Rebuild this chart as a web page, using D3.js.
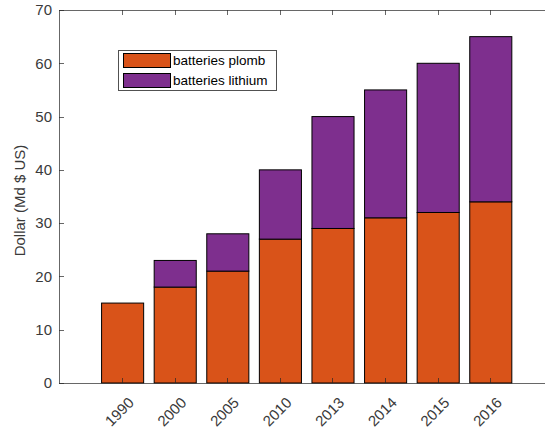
<!DOCTYPE html>
<html><head><meta charset="utf-8">
<script src="https://cdn.jsdelivr.net/npm/d3@7"></script>
<style>body{margin:0;background:#fff}svg{display:block}text{font-family:"Liberation Sans",Arial,sans-serif}</style>
</head><body><svg id="c" width="545" height="428"></svg>
<script>
const categories = ["1990","2000","2005","2010","2013","2014","2015","2016"];
const plomb   = [15,18,21,27,29,31,32,34];
const lithium = [0,5,7,13,21,24,28,31];
const seriesNames = ["batteries plomb","batteries lithium"];
const colors = ["#D95319","#7E2F8E"];
const yTicks = [0,10,20,30,40,50,60,70];

const svg = d3.select("#c");
const L=59, T=10, B=383, R=553.4;
const x = d3.scaleLinear().domain([-0.2, categories.length+1.2]).range([L,R]);
const y = d3.scaleLinear().domain([0,70]).range([B,T]);
const axisCol = "#262626";
const textCol = "#3a3a3a";
const barW = 0.8;

const data = categories.map((c,i)=>({c, i:i+1, plomb:plomb[i], lithium:lithium[i]}));
const stack = d3.stack().keys(["plomb","lithium"])(data);

stack.forEach((s,k)=>{
  svg.append("g").selectAll("rect").data(s.filter(d=>d[1]-d[0]>0)).join("rect")
    .attr("x", d=>x(d.data.i-barW/2)+0.5)
    .attr("width", d=>x(barW)-x(0))
    .attr("y", d=>y(d[1]))
    .attr("height", d=>y(d[0])-y(d[1]))
    .attr("fill", colors[k]).attr("stroke","#000").attr("stroke-width",1);
});

// axes box
const g = svg.append("g").attr("stroke", axisCol).attr("stroke-opacity",0.7).attr("fill","none");
g.append("line").attr("x1",L+0.5).attr("x2",L+0.5).attr("y1",T).attr("y2",B+0.5);
g.append("line").attr("x1",L).attr("x2",R).attr("y1",B+0.5).attr("y2",B+0.5);
g.append("line").attr("x1",L).attr("x2",R).attr("y1",T+0.5).attr("y2",T+0.5);
// y ticks inward
g.selectAll(".yt").data(yTicks).join("line").attr("x1",L).attr("x2",L+5)
  .attr("y1",d=>Math.round(y(d))+0.5).attr("y2",d=>Math.round(y(d))+0.5);
// x ticks bottom & top inward
g.selectAll(".xb").data(data).join("line").attr("x1",d=>Math.round(x(d.i))+0.5).attr("x2",d=>Math.round(x(d.i))+0.5)
  .attr("y1",B).attr("y2",B-5);
g.selectAll(".xt").data(data).join("line").attr("x1",d=>Math.round(x(d.i))+0.5).attr("x2",d=>Math.round(x(d.i))+0.5)
  .attr("y1",T).attr("y2",T+5);

svg.append("g").selectAll("text").data(yTicks).join("text")
  .attr("x",L-7).attr("y",d=>y(d)).attr("dy","0.35em").attr("text-anchor","end")
  .attr("font-size",15).attr("fill",textCol).text(d=>d);

svg.append("g").selectAll("text").data(data).join("text")
  .attr("transform",d=>`translate(${x(d.i)+9},${B+17}) rotate(-45)`)
  .attr("text-anchor","end").attr("dy","0.35em")
  .attr("font-size",15).attr("fill",textCol).text(d=>d.c);

svg.append("text").attr("transform",`translate(25,${(T+B)/2+4}) rotate(-90)`)
  .attr("text-anchor","middle").attr("font-size",15).attr("fill",textCol).text("Dollar (Md $ US)");

// legend
const lg = svg.append("g").attr("transform","translate(118,50)");
lg.append("rect").attr("x",0.5).attr("y",0.5).attr("width",158).attr("height",40).attr("fill","#fff").attr("stroke",axisCol).attr("stroke-opacity",0.8);
seriesNames.forEach((n,k)=>{
  lg.append("rect").attr("x",5.5).attr("y",3.5+k*20).attr("width",47).attr("height",14)
    .attr("fill",colors[k]).attr("stroke","#000");
  lg.append("text").attr("x",55).attr("y",10.5+k*20).attr("dy","0.35em").attr("font-size",13.5)
    .attr("fill","#000").text(n);
});
</script></body></html>
